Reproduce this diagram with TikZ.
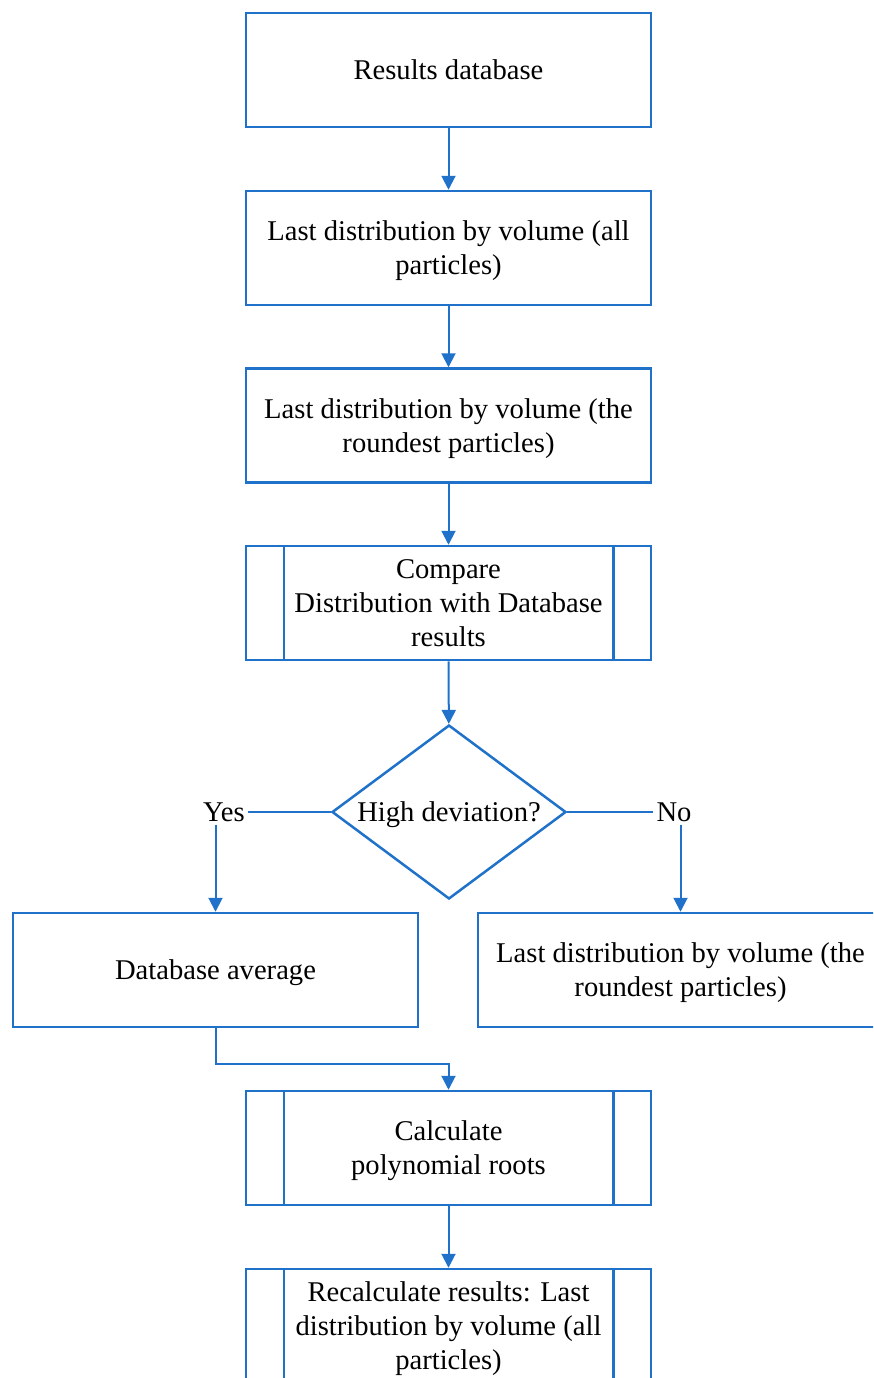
\documentclass[tikz,border=0pt]{standalone}
\usepackage{fontspec}
\setmainfont{Liberation Serif}
\usetikzlibrary{arrows.meta,shapes.geometric}
\definecolor{flowblue}{RGB}{31,113,201}

\begin{document}
\begin{tikzpicture}[x=1pt, y=-1pt,
    caixa/.style={draw=flowblue, line width=2.5pt, minimum width=405pt, minimum height=114pt,
        inner sep=0pt, text depth=0pt, align=center, font=\fontsize{28.6}{34}\selectfont},
    rombe/.style={draw=flowblue, line width=2.5pt, diamond, aspect=1.345, minimum width=234pt,
        minimum height=174pt, inner sep=0pt, text depth=0pt, font=\fontsize{28.6}{34}\selectfont},
    etiq/.style={inner sep=3pt, text depth=0pt, font=\fontsize{28.6}{34}\selectfont},
    flecha/.style={draw=flowblue, line width=2pt, -{Triangle[width=14pt,length=14pt]}},
    linia/.style={draw=flowblue, line width=2pt}]

    % FULL (retall a la mida de la imatge)
    \clip (0,0) rectangle (873,1378);

    % CAIXES PRINCIPALS
    \node[caixa] (results) at (448.5,70) {Results database};
    \node[caixa] (allvol) at (448.5,248) {Last distribution by volume (all\\particles)};
    \node[caixa] (roundvol) at (448.5,425.5) {Last distribution by volume (the\\roundest particles)};
    \node[caixa] (compare) at (448.5,603) {Compare\\Distribution with Database\\results};

    % DECISIO
    \node[rombe] (dev) at (449,812) {High deviation?};
    \node[etiq] (yes) at (224,812) {Yes};
    \node[etiq] (no) at (674,812) {No};

    % BRANQUES
    \node[caixa] (avg) at (215.5,970) {Database average};
    \node[caixa] (roundvol2) at (680.5,970) {Last distribution by volume (the\\roundest particles)};

    % SUBPROCESSOS FINALS
    \node[caixa] (roots) at (448.5,1148) {Calculate\\polynomial roots};
    \node[caixa] (recalc) at (448.5,1326) {Recalculate results: Last\\distribution by volume (all\\particles)};

    % Linies verticals dels subprocessos
    \foreach \n in {compare, roots, recalc} {
        \draw[draw=flowblue, line width=2.5pt] ([xshift=39pt]\n.north west) -- ([xshift=39pt]\n.south west);
        \draw[draw=flowblue, line width=2.5pt] ([xshift=-39pt]\n.north east) -- ([xshift=-39pt]\n.south east);
    }

    % CONNECTORS
    \draw[flecha] (results) -- (allvol);
    \draw[flecha] (allvol) -- (roundvol);
    \draw[flecha] (roundvol) -- (compare);
    \draw[flecha] (compare) -- (dev);
    \draw[linia] (dev.west) -- (yes.east);
    \draw[linia] (dev.east) -- (no.west);
    \draw[flecha] (yes.south -| avg.north) -- (avg.north);
    \draw[flecha] (no.south -| roundvol2.north) -- (roundvol2.north);
    \draw[flecha] (avg.south) -- ++(0,36) -| (roots.north);
    \draw[flecha] (roots) -- (recalc);

\end{tikzpicture}
\end{document}
